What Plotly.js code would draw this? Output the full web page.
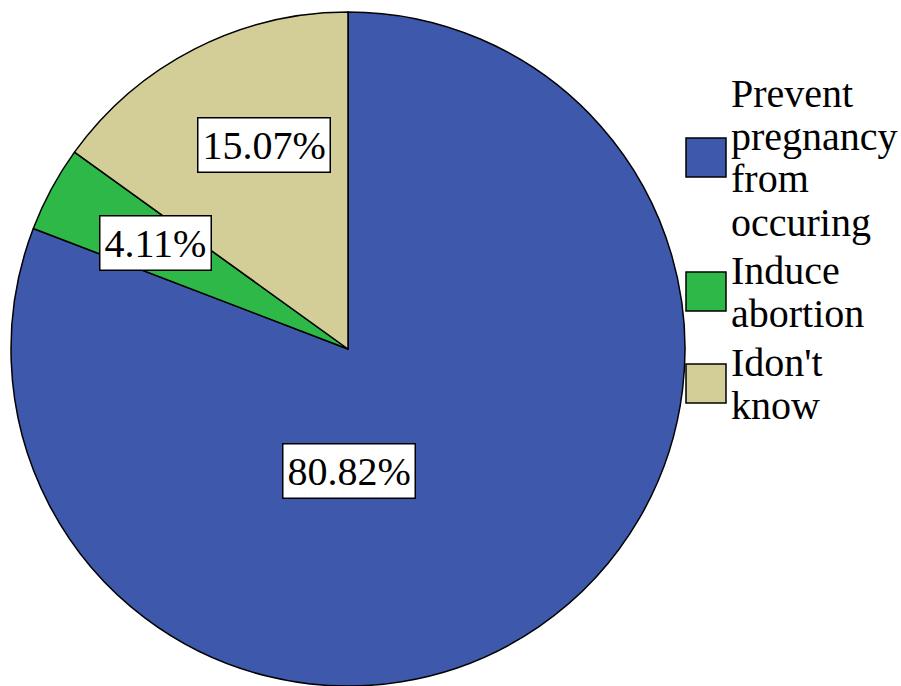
<!DOCTYPE html>
<html>
<head>
<meta charset="utf-8">
<script src="https://cdn.plot.ly/plotly-3.0.1.min.js"></script>
<style>html,body{margin:0;padding:0;background:#fff;}#chart{width:901px;height:686px;}</style>
</head>
<body>
<div id="chart"></div>
<script>
// Data
const categories = ["Prevent pregnancy from occuring", "Induce abortion", "Idon't know"];
const legendLines = [["Prevent", "pregnancy", "from", "occuring"], ["Induce", "abortion"], ["Idon't", "know"]];
const percents = [80.82, 4.11, 15.07];
const percentLabels = ["80.82%", "4.11%", "15.07%"];

// Styles
const colors = ["#3E58AC", "#2EB848", "#D3CE97"];
const FONT = "'Liberation Serif', 'Times New Roman', serif";
const W = 901, H = 686;
// label box centers (pixels) for each slice
const labelCenters = [[349, 471], [155, 243], [264, 145]];
// legend layout (pixels)
const legendSquareX = [686, 726];
const legendTextX = 729;
const legendBlockTops = [93, 270, 362];
const lineH = 43;
const sq = 39;

const px = x => x / W;
const py = y => 1 - y / H;

const annotations = [];
const shapes = [];
percentLabels.forEach((t, i) => {
  annotations.push({
    text: t, xref: "paper", yref: "paper",
    x: px(labelCenters[i][0]), y: py(labelCenters[i][1]),
    xanchor: "center", yanchor: "middle", showarrow: false,
    bgcolor: "#ffffff", bordercolor: "#000000", borderwidth: 1.5, borderpad: 4,
    font: {family: FONT, size: 40, color: "#000"}
  });
});
legendLines.forEach((lines, i) => {
  const top = legendBlockTops[i];
  lines.forEach((ln, j) => {
    annotations.push({
      text: ln, xref: "paper", yref: "paper",
      x: px(legendTextX), y: py(top + j * lineH),
      xanchor: "left", yanchor: "middle", showarrow: false,
      font: {family: FONT, size: 40, color: "#000"}
    });
  });
  const cy = top + (lines.length - 1) * lineH / 2;
  shapes.push({
    type: "rect", xref: "paper", yref: "paper",
    x0: px(legendSquareX[0]), x1: px(legendSquareX[1]),
    y0: py(cy - sq / 2), y1: py(cy + sq / 2),
    fillcolor: colors[i], line: {color: "#000", width: 1.5}
  });
});

const trace = {
  type: "pie",
  labels: categories,
  values: percents,
  sort: false,
  direction: "clockwise",
  rotation: 0,
  textinfo: "none",
  hoverinfo: "label+percent",
  marker: {colors: colors, line: {color: "#000", width: 1.5}},
  domain: {x: [10 / W, 686 / W], y: [0, 1 - 12 / H]},
  showlegend: false
};

Plotly.newPlot("chart", [trace], {
  width: W, height: H,
  margin: {l: 0, r: 0, t: 0, b: 0},
  paper_bgcolor: "#fff",
  showlegend: false,
  annotations: annotations,
  shapes: shapes
}, {displayModeBar: false, staticPlot: true});
</script>
</body>
</html>
